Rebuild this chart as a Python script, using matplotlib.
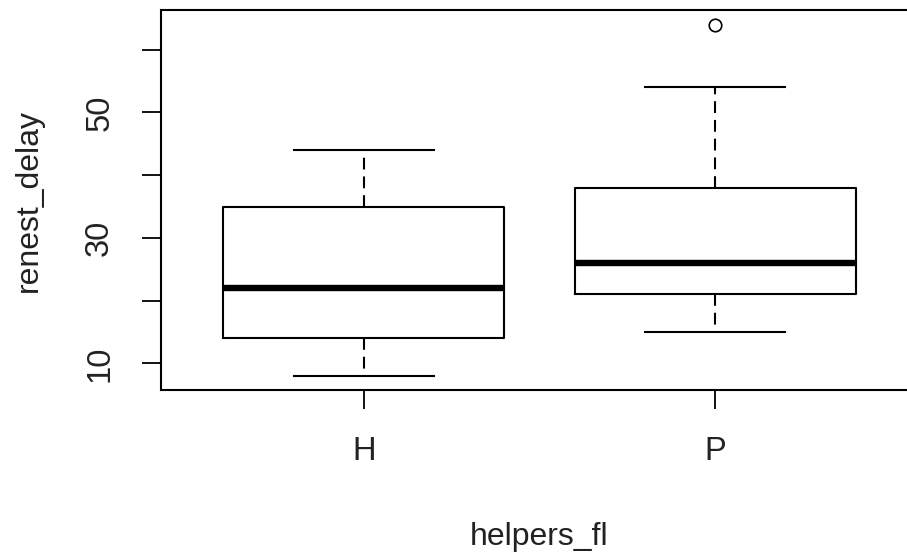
import matplotlib
matplotlib.use("Agg")
import matplotlib.pyplot as plt

plt.rcParams['font.family'] = ['Liberation Sans', 'DejaVu Sans']
plt.rcParams['lines.scale_dashes'] = False

# Five-number summaries per helper group
groups = ["H", "P"]
whisker_low = [8, 15]
q1 = [14, 21]
median = [22, 26]
q3 = [35, 38]
whisker_high = [44, 54]
outliers = [[], [64]]

y_ticks = [10, 20, 30, 40, 50, 60]
y_tick_labels = ["10", "", "30", "", "50", ""]

stats = []
for i, g in enumerate(groups):
    stats.append(dict(label=g, whislo=whisker_low[i], q1=q1[i], med=median[i],
                      q3=q3[i], whishi=whisker_high[i], fliers=outliers[i]))

W, H = 907, 553
fig = plt.figure(figsize=(W / 100, H / 100), dpi=100)
ax_left, ax_right, ax_top, ax_bottom = 161, 918, 10.5, 390
ax = fig.add_axes([ax_left / W, (H - ax_bottom) / H,
                   (ax_right - ax_left) / W, (ax_bottom - ax_top) / H])

lw = 1.5
ax.bxp(stats, positions=[1, 2], widths=0.8, capwidths=0.4,
       boxprops=dict(color='black', linewidth=lw),
       whiskerprops=dict(color='black', linewidth=lw, linestyle=(0, (8.5, 5))),
       capprops=dict(color='black', linewidth=lw),
       medianprops=dict(color='black', linewidth=4.6, solid_capstyle='butt'),
       flierprops=dict(marker='o', markerfacecolor='none', markeredgecolor='black',
                       markersize=9, markeredgewidth=1.2))

ax.set_xlim(0.422, 2.578)
ax.set_ylim(5.76, 66.24)
ax.set_yticks(y_ticks)
ax.set_yticklabels(y_tick_labels, rotation=90, va='center')
ax.set_xticks([1, 2])
ax.set_xticklabels(groups)

for s in ax.spines.values():
    s.set_linewidth(lw)
    s.set_color('black')

ax.tick_params(axis='both', length=14, width=1.3, labelsize=23.5, colors='black',
               labelcolor='#222222')
ax.tick_params(axis='x', pad=19)
ax.tick_params(axis='y', pad=19)

ax.set_xlabel("helpers_fl", fontsize=23, color='#222222', labelpad=40)
ax.set_ylabel("renest_delay", fontsize=23, color='#222222')
# place the y-axis title a fixed distance left of the frame, centred vertically
ax.yaxis.set_label_coords((29 - ax_left) / (ax_right - ax_left), 0.5)
ax.yaxis.label.set_va('center')

fig.savefig("out.png", dpi=100)
